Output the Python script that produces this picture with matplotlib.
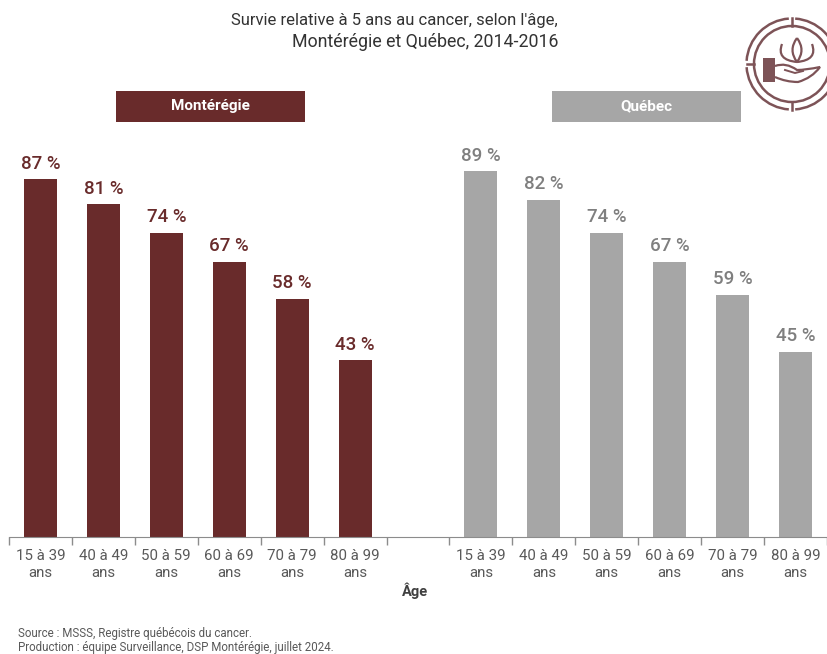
import matplotlib
matplotlib.use('Agg')
import matplotlib.pyplot as plt
import numpy as np
from matplotlib.patches import Arc, Circle, PathPatch, Rectangle
from matplotlib.path import Path

plt.rcParams['font.family'] = ['Roboto', 'DejaVu Sans']

# Values
age_groups = ['15 à 39\nans', '40 à 49\nans', '50 à 59\nans', '60 à 69\nans', '70 à 79\nans', '80 à 99\nans']
monteregie = [87, 81, 74, 67, 58, 43]
quebec = [89, 82, 74, 67, 59, 45]

red = '#692b2b'
grey = '#a6a6a6'
icon_col = '#7d5357'

W, H = 827, 654
fig = plt.figure(figsize=(W / 100, H / 100), dpi=100)

# Main axes: 13 slots, the 7th one stays empty
ax = fig.add_axes([9 / W, 1 - 537 / H, 818 / W, 411 / H])
labels = age_groups + [''] + age_groups
x = np.arange(len(labels))
values = monteregie + [0] + quebec
colors = [red] * 6 + ['none'] + [grey] * 6
bars = ax.bar(x, values, width=0.525, color=colors, zorder=1)

for xi, v, name in zip(x, values, colors):
    if v == 0:
        continue
    ax.text(xi, v + 1.6, f'{v} %', ha='center', va='bottom', fontsize=13.5, fontweight='medium',
            color=red if name == red else '#7f7f7f')

ax.set_xlim(-0.5, 12.5)
ax.set_ylim(0, 100)
ax.set_yticks([])
ax.set_xticks(np.arange(-0.5, 13, 1))
ax.set_xticklabels([])
ax.set_xticks(x, minor=True)
ax.set_xticklabels(labels, minor=True, fontsize=10.8, color='#595959', linespacing=1.2)
ax.tick_params(axis='x', which='major', length=6, color='#8c8c8c', width=1)
ax.tick_params(axis='x', which='minor', length=0, pad=9)
for s in ['top', 'left', 'right']:
    ax.spines[s].set_visible(False)
ax.spines['bottom'].set_color('#8c8c8c')

# Overlay in pixel coordinates for headers, texts and icon
ov = fig.add_axes([0, 0, 1, 1])
ov.set_xlim(0, W)
ov.set_ylim(H, 0)
ov.axis('off')
ov.patch.set_alpha(0)

ov.text(558, 20, "Survie relative à 5 ans au cancer, selon l'âge,", ha='right', va='center', fontsize=12, color='#333333')
ov.text(558, 42, 'Montérégie et Québec, 2014-2016', ha='right', va='center', fontsize=12.8, color='#333333')
ov.add_patch(Rectangle((116, 91), 189, 31, color=red, lw=0))
ov.add_patch(Rectangle((552, 91), 189, 31, color=grey, lw=0))
ov.text(210.5, 106, 'Montérégie', ha='center', va='center', fontsize=11, fontweight='bold', color='white')
ov.text(646.5, 106, 'Québec', ha='center', va='center', fontsize=11, fontweight='bold', color='white')
ov.text(415, 591, 'Âge', ha='center', va='center', fontsize=10.5, fontweight='bold', color='#404040')
ov.text(18, 634, 'Source : MSSS, Registre québécois du cancer.', ha='left', va='center', fontsize=8.3, color='#595959')
ov.text(18, 648, 'Production : équipe Surveillance, DSP Montérégie, juillet 2024.', ha='left', va='center', fontsize=8.3, color='#595959')

# Icon: rings, lotus and hand
cx, cy = 792, 64
for a1, a2 in [(4, 86), (94, 176), (184, 266), (274, 356)]:
    ov.add_patch(Arc((cx, cy), 91, 91, theta1=a1, theta2=a2, color=icon_col, lw=1.8))
ov.add_patch(Circle((cx, cy), 38, fill=False, ec=icon_col, lw=1.8))
ov.plot([cx, cx], [18, 26], color=icon_col, lw=1.8)
ov.plot([cx, cx], [102, 110], color=icon_col, lw=1.8)
ov.plot([747, 754], [cy, cy], color=icon_col, lw=1.8)
ov.add_patch(Rectangle((763, 58), 12, 24, color=icon_col, lw=0))

C3 = Path.CURVE3
lotus = [
    [(797, 38), (788, 50), (797, 62)],
    [(797, 38), (806, 50), (797, 62)],
    [(782, 44), (776, 60), (797, 62)],
    [(812, 44), (818, 60), (797, 62)],
]
for p0, p1, p2 in lotus:
    ov.add_patch(PathPatch(Path([p0, p1, p2], [Path.MOVETO, C3, C3]), fill=False, ec=icon_col, lw=1.6))
hand = [(775, 66), (786, 62), (797, 70), (806, 70), (820, 67), (812, 78), (798, 82), (786, 82), (775, 77)]
hand_codes = [Path.MOVETO, C3, C3, C3, C3, C3, C3, C3, C3]
ov.add_patch(PathPatch(Path(hand, hand_codes), fill=False, ec=icon_col, lw=1.6))
ov.plot([785, 795, 803], [70, 73, 71], color=icon_col, lw=1.4)

fig.savefig('out.png', dpi=100)
